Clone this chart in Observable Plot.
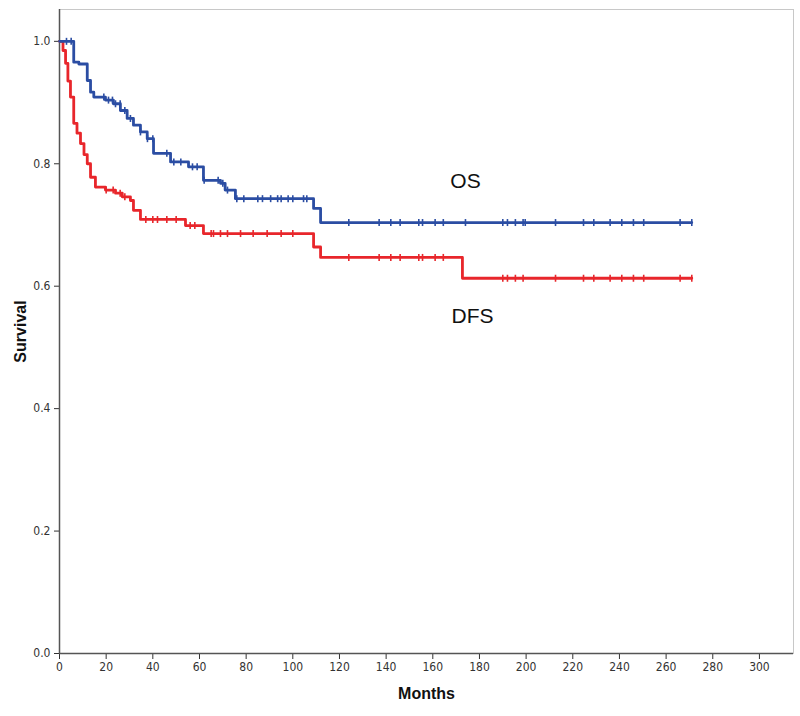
<!DOCTYPE html>
<html>
<head>
<meta charset="utf-8">
<script src="https://cdn.jsdelivr.net/npm/d3@7"></script>
<script src="https://cdn.jsdelivr.net/npm/@observablehq/plot@0.6"></script>
<style>
  body { margin: 0; background: #fff; }
  #chart svg { font-family: "DejaVu Sans Condensed", "Liberation Sans", Arial, sans-serif; }
  #chart g[aria-label="x-axis label"] text, #chart g[aria-label="y-axis label"] text {
    font-family: "Liberation Sans", Arial, sans-serif; font-weight: bold; font-size: 16px; fill: #111;
  }
</style>
</head>
<body>
<div id="chart"></div>
<script>
// Overall survival (OS) step curve
const osTimes = [0, 6.1, 8.3, 11.9, 13.3, 14.7, 19.7, 23.1, 26.1, 29, 31.7, 34.7, 37.6, 40.3, 47.6, 55.3, 61.7, 69, 71, 75.4, 108.9, 111.9, 271];
const osSurv  = [1.0, 0.966, 0.963, 0.936, 0.917, 0.909, 0.904, 0.898, 0.887, 0.874, 0.863, 0.852, 0.841, 0.817, 0.803, 0.795, 0.773, 0.768, 0.757, 0.743, 0.727, 0.704, 0.704];
const osCensor = [3, 5, 19, 21, 22.7, 24, 26, 28, 30.4, 34.7, 37.7, 40, 46, 49, 52, 57, 59, 62, 68, 70, 72, 76, 79, 85, 87, 90.5, 93.5, 95, 98, 100, 104.6, 106, 124, 137, 142, 146, 154, 155.6, 161, 164.5, 174, 190, 192, 195.4, 198.7, 199.6, 212.6, 224.6, 229, 236, 241, 246, 250.4, 266, 271];

// Disease-free survival (DFS) step curve
const dfsTimes = [0, 1.5, 2.6, 3.6, 4.7, 6.1, 7.5, 9, 10.5, 11.9, 13.3, 15.4, 19.7, 24, 26.9, 30.4, 31.7, 34.7, 54, 61.7, 108.9, 111.9, 172.7, 271];
const dfsSurv  = [1.0, 0.985, 0.964, 0.935, 0.909, 0.866, 0.85, 0.833, 0.815, 0.80, 0.778, 0.762, 0.757, 0.752, 0.746, 0.74, 0.724, 0.709, 0.699, 0.686, 0.664, 0.647, 0.613, 0.613];
const dfsCensor = [20, 23, 26, 28, 37, 40, 42, 46, 50, 56, 58, 65, 66, 69, 72, 77.6, 83, 89, 95, 100, 124, 137, 142, 146, 154, 155.6, 161, 164.5, 190, 192, 195.4, 198.7, 212.6, 224.6, 229, 236, 241, 246, 250.4, 266, 271];

const xTicks = [0, 20, 40, 60, 80, 100, 120, 140, 160, 180, 200, 220, 240, 260, 280, 300];
const yTicks = [0, 0.2, 0.4, 0.6, 0.8, 1.0];

const labels = [
  {t: 174, s: 0.771, name: "OS"},
  {t: 177, s: 0.551, name: "DFS"}
];

const BLUE = "#2b4da3";
const RED = "#e8262b";

function curve(times, surv) { return times.map((t, i) => ({t, s: surv[i]})); }
function stepAt(times, surv, t) {
  let v = surv[0];
  for (let i = 0; i < times.length; i++) if (times[i] <= t) v = surv[i];
  return v;
}
function censors(arr, times, surv) { return arr.map(t => ({t, s: stepAt(times, surv, t)})); }

const vbar = { draw(ctx, size) { const h = Math.sqrt(size / Math.PI); ctx.moveTo(0, -h); ctx.lineTo(0, h); } };

const chart = Plot.plot({
  width: 800,
  height: 716,
  marginLeft: 59,
  marginTop: 9,
  marginRight: 7,
  marginBottom: 63,
  x: { domain: [0, 314.6] },
  y: { domain: [0, 1.052] },
  marks: [
    Plot.frame({ stroke: "#c8c8c8" }),
    Plot.axisY({ ticks: yTicks, tickFormat: ".1f", tickSize: 5, fontSize: 12, color: "#333", label: "Survival", labelAnchor: "center", labelOffset: 45, labelArrow: "none" }),
    Plot.axisX({ ticks: xTicks, tickSize: 6, fontSize: 12, color: "#333", label: "Months", labelAnchor: "center", labelOffset: 45, labelArrow: "none" }),
    Plot.ruleX([0], { stroke: "#555", strokeWidth: 1.5 }),
    Plot.ruleY([0], { stroke: "#555", strokeWidth: 1.5 }),
    Plot.line(curve(dfsTimes, dfsSurv), { x: "t", y: "s", curve: "step-after", stroke: RED, strokeWidth: 2.8 }),
    Plot.line(curve(osTimes, osSurv), { x: "t", y: "s", curve: "step-after", stroke: BLUE, strokeWidth: 2.8 }),
    Plot.dot(censors(dfsCensor, dfsTimes, dfsSurv), { x: "t", y: "s", symbol: vbar, r: 3.5, stroke: RED, strokeWidth: 1.6 }),
    Plot.dot(censors(osCensor, osTimes, osSurv), { x: "t", y: "s", symbol: vbar, r: 3.5, stroke: BLUE, strokeWidth: 1.6 }),
    Plot.text(labels, { x: "t", y: "s", text: "name", fontSize: 21, fill: "#111", fontFamily: "Liberation Sans, Arial, sans-serif" })
  ]
});
document.getElementById("chart").appendChild(chart);
</script>
</body>
</html>
